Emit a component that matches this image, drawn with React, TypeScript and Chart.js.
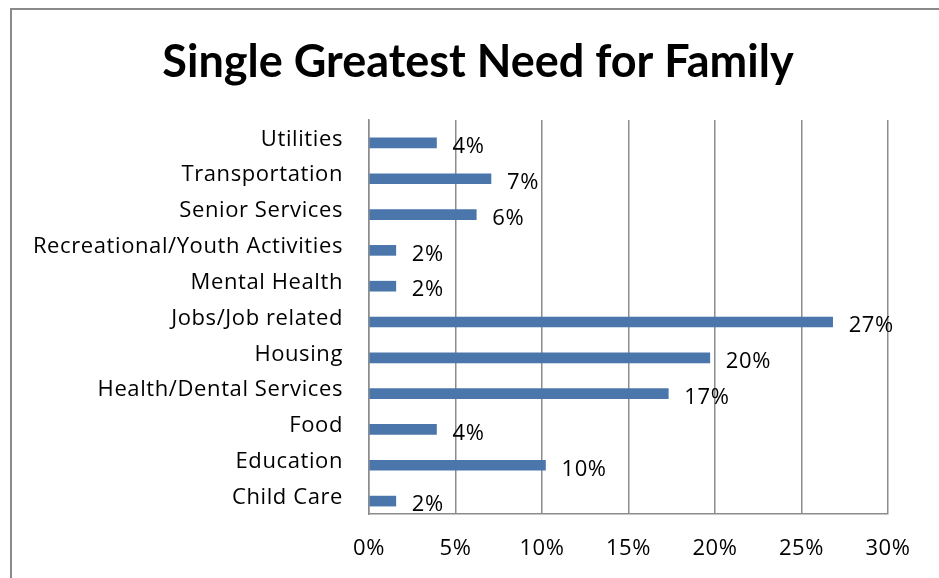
import React, { useEffect, useRef } from "react";
import { Chart, registerables } from "chart.js";

Chart.register(...registerables);

const TITLE = "Single Greatest Need for Family";
const categories = [
  "Utilities",
  "Transportation",
  "Senior Services",
  "Recreational/Youth Activities",
  "Mental Health",
  "Jobs/Job related",
  "Housing",
  "Health/Dental Services",
  "Food",
  "Education",
  "Child Care",
];
const values = [3.9, 7.05, 6.2, 1.55, 1.55, 26.8, 19.7, 17.3, 3.9, 10.2, 1.55];
const xTicks = [0, 5, 10, 15, 20, 25, 30];

const FONT = "'Open Sans', sans-serif";
const TITLE_FONT = "Lato, 'Open Sans', sans-serif";

export default function App() {
  const ref = useRef<HTMLCanvasElement>(null);
  useEffect(() => {
    const canvas = ref.current!;
    const frame = {
      id: "frame",
      beforeLayout(chart: any) {
        chart.ctx.letterSpacing = "0.6px";
      },
      beforeDraw(chart: any) {
        const ctx = chart.ctx;
        ctx.save();
        ctx.letterSpacing = "0px";
        ctx.fillStyle = "#ffffff";
        ctx.fillRect(0, 0, chart.width, chart.height);
        ctx.strokeStyle = "#8a8a8a";
        ctx.lineWidth = 2;
        ctx.beginPath();
        ctx.moveTo(11, 578);
        ctx.lineTo(11, 9);
        ctx.lineTo(939, 9);
        ctx.stroke();
        ctx.fillStyle = "#000";
        ctx.font = `bold 45px ${TITLE_FONT}`;
        ctx.textAlign = "center";
        ctx.textBaseline = "middle";
        ctx.fillText(TITLE, 478, 62);
        ctx.restore();
        ctx.letterSpacing = "0.6px";
      },
      afterDatasetsDraw(chart: any) {
        const ctx = chart.ctx;
        const meta = chart.getDatasetMeta(1);
        ctx.save();
        ctx.letterSpacing = "0.6px";
        ctx.fillStyle = "#000";
        ctx.font = `22px ${FONT}`;
        ctx.textAlign = "left";
        ctx.textBaseline = "middle";
        meta.data.forEach((el: any, i: number) => {
          const v = chart.data.datasets[1].data[i] as number;
          ctx.fillText(Math.round(v) + "%", el.x + 16, el.y + 4);
        });
        ctx.restore();
      },
    };
    const chart = new Chart(canvas, {
      type: "bar",
      data: {
        labels: categories,
        datasets: [
          { data: categories.map(() => null), backgroundColor: "rgba(0,0,0,0)", barThickness: 10 },
          {
            data: values,
            backgroundColor: "#4A76AB",
            barThickness: 10,
          },
        ],
      },
      options: {
        indexAxis: "y",
        animation: false,
        responsive: false,
        maintainAspectRatio: false,
        layout: { padding: { top: 120, right: 51, left: 0, bottom: 0 } },
        plugins: { legend: { display: false }, tooltip: { enabled: false }, title: { display: false } },
        scales: {
          x: {
            min: 0,
            max: 30,
            afterBuildTicks(scale: any) {
              scale.ticks = xTicks.map((v) => ({ value: v }));
            },
            afterFit(scale: any) {
              scale.height = 578 - 514;
            },
            grid: { color: "#8c8c8c", lineWidth: 1.5, drawTicks: false },
            border: { color: "#8c8c8c", width: 1.5 },
            ticks: {
              padding: 22,
              color: "#000",
              font: { family: FONT, size: 22 },
              callback: (v: any) => v + "%",
              maxRotation: 0,
            },
          },
          y: {
            afterFit(scale: any) {
              scale.width = 369;
            },
            grid: { display: false, drawTicks: false },
            border: { color: "#8c8c8c", width: 1.5 },
            ticks: {
              padding: 26,
              labelOffset: 1.5,
              color: "#000",
              font: { family: FONT, size: 22 },
              autoSkip: false,
            },
          },
        },
      },
      plugins: [frame],
    });
    return () => chart.destroy();
  }, []);
  return (
    <div style={{ position: "absolute", left: 0, top: 0, width: 939, height: 578 }}>
      <canvas ref={ref} width={939} height={578} style={{ width: 939, height: 578, display: "block" }} />
    </div>
  );
}
